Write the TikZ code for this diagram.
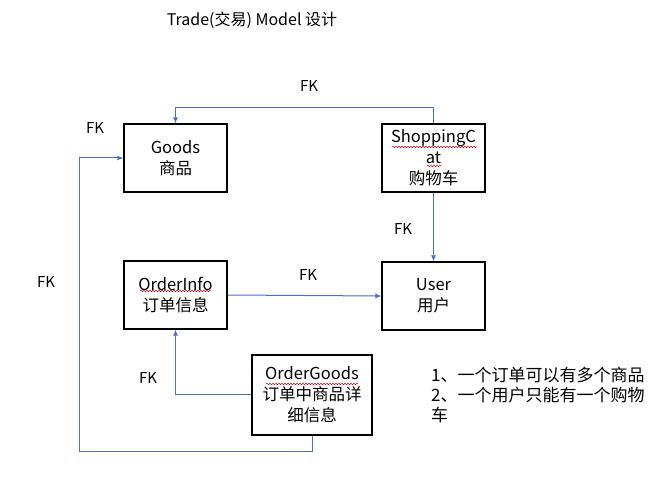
\documentclass[tikz,border=0pt]{standalone}
\usepackage{fontspec}
\setmainfont{Noto Sans CJK SC}
\usetikzlibrary{arrows.meta,decorations.pathmorphing}
\begin{document}
\begin{tikzpicture}[x=1pt,y=-1pt,
  box/.style={draw=black, line width=1.2pt, minimum width=103pt, minimum height=68pt, align=center, inner sep=2pt, font=\fontsize{16.5}{21}\selectfont},
  fk/.style={draw={rgb,255:red,68;green,114;blue,196}, line width=1pt, -{Latex[length=6pt,width=5pt]}},
  lbl/.style={font=\fontsize{15}{20}\selectfont, inner sep=0pt},
  squig/.style={draw=red!85!black, line width=0.5pt, decorate, decoration={snake, amplitude=0.7pt, segment length=3pt}}]
\useasboundingbox (0,0) rectangle (667,478);
\node[lbl, font=\fontsize{16}{20}\selectfont] (title) at (252,20) {Trade(交易) Model 设计};
\node[box] (goods) at (175.5,158) {Goods\\商品};
\node[box] (sc) at (433.5,158) {ShoppingC\\at\\购物车};
\node[box] (oi) at (175.5,295) {OrderInfo\\订单信息};
\node[box] (user) at (433.5,296) {User\\用户};
\node[box, minimum width=120pt, minimum height=80pt] (og) at (312,395) {OrderGoods\\订单中商品详\\细信息};
\node[lbl, anchor=north west, align=left, font=\fontsize{17}{20}\selectfont] (note) at (431,367) {1、一个订单可以有多个商品\\2、一个用户只能有一个购物\\车};
\node[lbl] (fk1) at (309,86) {FK};
\node[lbl] (fk2) at (95,128) {FK};
\node[lbl] (fk3) at (403,229) {FK};
\node[lbl] (fk4) at (308,275) {FK};
\node[lbl] (fk5) at (46,282) {FK};
\node[lbl] (fk6) at (148,378) {FK};
\coordinate (c1) at (79.5,451.5);
\draw[fk] (sc.north) -- ++(0,-16) -| (goods.north);
\draw[fk] (sc.south) -- (user.north);
\draw[fk] (oi.east) -- (user.west);
\draw[fk] (og.west) -| (oi.south);
\draw[fk] (og.south) |- (c1) |- (goods.west);
\draw[squig] (392,147) -- (477,147);
\draw[squig] (427,166) -- (442,166);
\draw[squig] (140,291) -- (211,291);
\draw[squig] (266,384) -- (358,384);
\end{tikzpicture}
\end{document}
